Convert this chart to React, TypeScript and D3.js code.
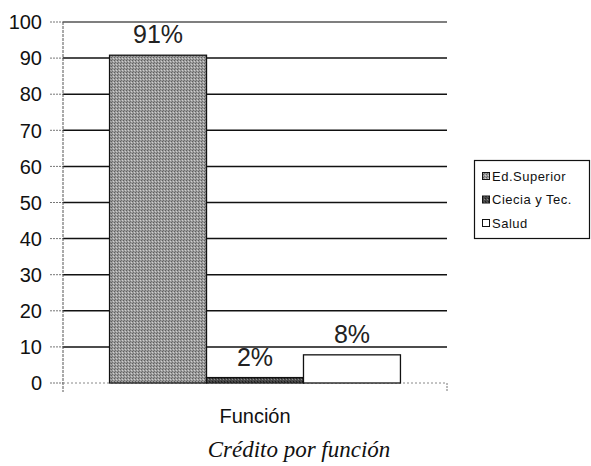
import React from "react";
import * as d3 from "d3";

const categories = ["Función"];
const seriesNames = ["Ed.Superior", "Ciecia y Tec.", "Salud"];
const seriesValues = [90.8, 1.5, 7.8];
const yTicks = [0, 10, 20, 30, 40, 50, 60, 70, 80, 90, 100];
const title = "Crédito por función";

const W = 591;
const H = 466;
const plotLeft = 63;
const plotRight = 447;
const plotTop = 22;
const plotBottom = 383;

const fills = ["url(#patEd)", "url(#patCi)", "#ffffff"];

export default function App() {
  const y = d3.scaleLinear().domain([0, 100]).range([plotBottom, plotTop]);
  const xOuter = d3
    .scaleBand<string>()
    .domain(categories)
    .range([plotLeft, plotRight])
    .paddingInner(0)
    .paddingOuter(0.16);
  const xInner = d3
    .scaleBand<string>()
    .domain(seriesNames)
    .range([0, xOuter.bandwidth()])
    .padding(0);

  const sans = "'Liberation Sans', Arial, sans-serif";
  const serif = "'Liberation Serif', 'Times New Roman', serif";

  return (
    <svg
      width={W}
      height={H}
      viewBox={`0 0 ${W} ${H}`}
      style={{ position: "absolute", left: 0, top: 0, background: "#fff" }}
    >
      <defs>
        <pattern id="patEd" width="3" height="3" patternUnits="userSpaceOnUse">
          <rect width="3" height="3" fill="#9c9c9c" />
          <rect x="0" y="0" width="1" height="1" fill="#5e5e5e" />
          <rect x="2" y="1" width="1" height="1" fill="#cfcfcf" />
          <rect x="1" y="2" width="1" height="1" fill="#707070" />
        </pattern>
        <pattern id="patCi" width="3" height="3" patternUnits="userSpaceOnUse">
          <rect width="3" height="3" fill="#4a4a4a" />
          <rect x="1" y="1" width="1" height="1" fill="#8a8a8a" />
          <rect x="2" y="0" width="1" height="1" fill="#222" />
        </pattern>
      </defs>

      {/* gridlines */}
      {yTicks.filter((t) => t > 0).map((t) => (
        <line
          key={"g" + t}
          x1={plotLeft}
          x2={plotRight}
          y1={y(t)}
          y2={y(t)}
          stroke={t === 100 ? "#555" : "#111"}
          strokeWidth={1.5}
        />
      ))}

      {/* tick marks */}
      {yTicks.map((t) => (
        <line
          key={"tm" + t}
          x1={plotLeft - 13}
          x2={plotLeft}
          y1={y(t)}
          y2={y(t)}
          stroke="#777"
          strokeWidth={1}
          strokeDasharray="2,1"
        />
      ))}

      {/* y axis */}
      <line
        x1={plotLeft}
        x2={plotLeft}
        y1={plotTop}
        y2={plotBottom + 9}
        stroke="#555"
        strokeWidth={1}
        strokeDasharray="3,1"
      />
      <line
        x1={plotRight}
        x2={plotRight}
        y1={plotBottom}
        y2={plotBottom + 9}
        stroke="#777"
        strokeWidth={1}
        strokeDasharray="2,1"
      />
      {/* x axis baseline */}
      <line
        x1={plotLeft}
        x2={plotRight}
        y1={plotBottom}
        y2={plotBottom}
        stroke="#888"
        strokeWidth={1}
        strokeDasharray="2,2"
      />

      {/* y tick labels */}
      {yTicks.map((t) => (
        <text
          key={"tl" + t}
          x={42}
          y={y(t)}
          dy="0.36em"
          textAnchor="end"
          fontFamily={sans}
          fontSize={20}
          fill="#111"
        >
          {t}
        </text>
      ))}

      {/* bars */}
      {categories.map((c) =>
        seriesNames.map((s, i) => {
          const x0 = (xOuter(c) ?? 0) + (xInner(s) ?? 0);
          const v = seriesValues[i];
          return (
            <g key={c + s}>
              <rect
                x={x0}
                y={y(v)}
                width={xInner.bandwidth()}
                height={y(0) - y(v)}
                fill={fills[i]}
                stroke="#111"
                strokeWidth={1.3}
              />
              <text
                x={x0 + xInner.bandwidth() / 2}
                y={y(v) - 12}
                textAnchor="middle"
                fontFamily={sans}
                fontSize={25}
                fill="#222"
              >
                {Math.round(v) + "%"}
              </text>
            </g>
          );
        })
      )}

      {/* x category label */}
      {categories.map((c) => (
        <text
          key={"xl" + c}
          x={(xOuter(c) ?? 0) + xOuter.bandwidth() / 2}
          y={423}
          textAnchor="middle"
          fontFamily={sans}
          fontSize={20}
          fill="#111"
        >
          {c}
        </text>
      ))}

      {/* legend */}
      <rect x={474.5} y={160.5} width={115} height={78} fill="#fff" stroke="#111" strokeWidth={1.2} />
      {seriesNames.map((s, i) => {
        const cy = 176 + i * 23.5;
        return (
          <g key={"lg" + s}>
            <rect x={482.5} y={cy - 3.5} width={7} height={7} fill={fills[i]} stroke="#111" strokeWidth={1} />
            <text
              x={492}
              y={cy}
              dy="0.36em"
              fontFamily={sans}
              fontSize={13}
              letterSpacing={0.5}
              fill="#111"
            >
              {s}
            </text>
          </g>
        );
      })}

      {/* title */}
      <text
        x={299}
        y={457}
        textAnchor="middle"
        fontFamily={serif}
        fontStyle="italic"
        fontSize={23}
        fill="#111"
      >
        {title}
      </text>
    </svg>
  );
}
